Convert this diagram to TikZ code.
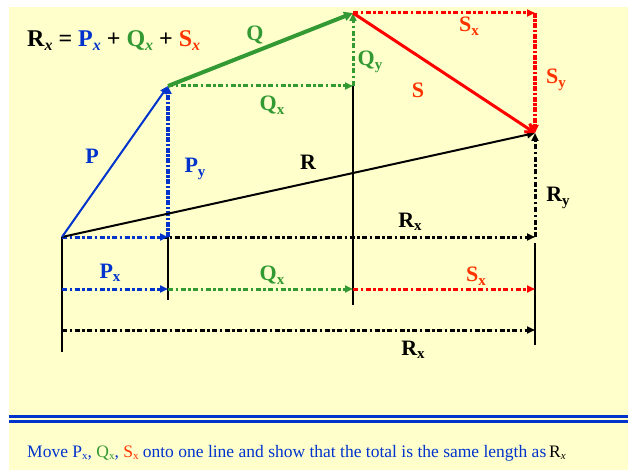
\documentclass[tikz,border=0pt]{standalone}
\usepackage{fontspec}
\setmainfont{Liberation Serif}
\usetikzlibrary{arrows.meta}
\definecolor{bg}{RGB}{255,255,204}
\definecolor{vblue}{RGB}{0,51,204}
\definecolor{vgreen}{RGB}{51,153,51}
\definecolor{vred}{RGB}{255,0,0}
\definecolor{lred}{RGB}{255,51,0}
\newcommand{\vlab}[2]{#1\raisebox{-0.35ex}{\fontsize{15}{15}\selectfont #2}}
\newcommand{\tsub}[2]{#1\raisebox{-0.3ex}{\fontsize{16}{16}\selectfont\itshape #2}}
\newcommand{\bsub}[2]{#1\raisebox{-0.3ex}{\fontsize{11}{11}\selectfont #2}}
\begin{document}
\begin{tikzpicture}[x=1pt,y=-1pt,
  tipa/.style={-{Triangle[length=8pt,width=7pt]}},
  comp/.style={dash pattern=on 5pt off 2.5pt on 2.5pt off 2.5pt, line width=3pt},
  compv/.style={dash pattern=on 5pt off 1.5pt on 2.5pt off 1.5pt, line width=4pt},
  lbl/.style={font=\fontsize{22}{22}\selectfont\bfseries, inner sep=0pt},
  vbar/.style={line width=2pt, black},
]
\useasboundingbox (0,0) rectangle (628,470);
\fill[bg] (9,7) rectangle (628,470);
\fill[vblue] (9,414.5) rectangle (628,418);
\fill[vblue] (9,420) rectangle (628,422.5);

% key points
\coordinate (O) at (62,237);
\coordinate (P) at (168,86);
\coordinate (Q) at (353,13);
\coordinate (S) at (535,133);
\coordinate (PB) at (168,237);
\coordinate (QB) at (353,86);
\coordinate (SB) at (535,13);
\coordinate (RB) at (535,237);
% row 2 and 3
\coordinate (A2) at (62,289);
\coordinate (B2) at (168,289);
\coordinate (C2) at (353,289);
\coordinate (D2) at (535,289);
\coordinate (A3) at (62,330);
\coordinate (D3) at (535,330);
% vertical bars
\coordinate (V1b) at (62,352);
\coordinate (V2b) at (168,300);
\coordinate (V3b) at (353,305);
\coordinate (V4t) at (535,243);
\coordinate (V4b) at (535,345);

% vertical bars
\draw[vbar] (O) -- (V1b);
\draw[vbar] (PB) -- (V2b);
\draw[vbar] (QB) -- (V3b);
\draw[vbar] (V4t) -- (V4b);

% component lines
\draw[comp, black, tipa] (O) -- (RB);
\draw[comp, vblue, tipa] (O) -- (PB);
\draw[compv, vblue, tipa] (PB) -- (P);
\draw[comp, vgreen, tipa] (P) -- (QB);
\draw[comp, vgreen, tipa] (QB) -- (Q);
\draw[comp, vred, tipa] (Q) -- (SB);
\draw[compv, vred, tipa] (SB) -- (S);
\draw[comp, black, tipa] (RB) -- (S);

\draw[comp, vblue, tipa] (A2) -- (B2);
\draw[comp, vgreen, tipa] (B2) -- (C2);
\draw[comp, vred, tipa] (C2) -- (D2);
\draw[comp, black, tipa] (A3) -- (D3);

% vectors
\draw[line width=2pt, black, tipa] (O) -- (S);
\draw[line width=2pt, vblue, tipa] (O) -- (P);
\draw[line width=4pt, vgreen, -{Triangle[length=9pt,width=9pt]}] (P) -- (Q);
\draw[line width=3pt, vred, -{Straight Barb[length=7pt,width=10pt]}] (Q) -- (S);

% labels
\node[anchor=base west, inner sep=0pt, font=\fontsize{24}{24}\selectfont\bfseries] (title) at (27,47)
  {\tsub{R}{x} = \textcolor{vblue}{\tsub{P}{x}} + \textcolor{vgreen}{\tsub{Q}{x}} + \textcolor{lred}{\tsub{S}{x}}};
\node[lbl, text=vgreen] (lQ) at (255,35) {Q};
\node[lbl, text=vgreen] (lQx1) at (272,105) {\vlab{Q}{x}};
\node[lbl, text=vgreen] (lQy) at (370,62) {\vlab{Q}{y}};
\node[lbl, text=lred] (lS) at (418,90) {S};
\node[lbl, text=lred] (lSx1) at (469,26) {\vlab{S}{x}};
\node[lbl, text=lred] (lSy) at (556,80) {\vlab{S}{y}};
\node[lbl, text=vblue] (lP) at (92,156) {P};
\node[lbl, text=vblue] (lPy) at (195,169) {\vlab{P}{y}};
\node[lbl, text=black] (lR) at (308,162) {R};
\node[lbl, text=black] (lRx1) at (410,222) {\vlab{R}{x}};
\node[lbl, text=black] (lRy) at (558,198) {\vlab{R}{y}};
\node[lbl, text=vblue] (lPx) at (110,273) {\vlab{P}{x}};
\node[lbl, text=vgreen] (lQx2) at (272,275) {\vlab{Q}{x}};
\node[lbl, text=lred] (lSx2) at (476,276) {\vlab{S}{x}};
\node[lbl, text=black] (lRx2) at (413,350) {\vlab{R}{x}};

\node[anchor=base west, inner sep=0pt, text=vblue, font=\fontsize{17.5}{17.5}\selectfont] (note) at (27,457)
  {Move \bsub{P}{x}, \textcolor{vgreen}{\bsub{Q}{x}}, \textcolor{lred}{\bsub{S}{x}} onto one line and show that the total is the same length as\,\textcolor{black}{\tsub{R}{\fontsize{11}{11}\selectfont x}}};
\end{tikzpicture}
\end{document}
